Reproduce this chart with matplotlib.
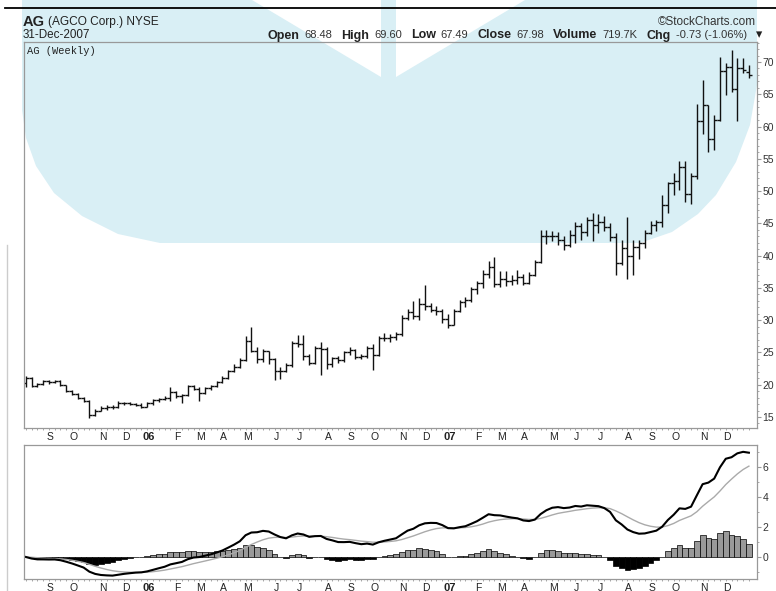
import matplotlib
matplotlib.use("Agg")
import matplotlib.pyplot as plt
from matplotlib.patches import Polygon
from matplotlib.lines import Line2D
import numpy as np
import pandas as pd

plt.rcParams['font.family'] = ['Liberation Sans', 'DejaVu Sans']

W, H = 776, 591

# weekly bars, AG, starting week of 8-Aug-2005
FIRST_WEEK = "2005-08-08"

OPEN = [20.3, 21.1, 19.8, 20.1, 20.6, 20.5, 20.6, 19.9, 19.1, 18.6,
        18.0, 17.5, 15.3, 16.0, 16.4, 16.6, 16.5, 17.2, 17.2, 17.0,
        16.9, 16.6, 17.1, 17.6, 17.8, 17.9, 18.8, 18.2, 18.4, 19.8,
        19.4, 18.7, 19.5, 19.8, 20.4, 21.0, 22.1, 22.8, 23.8, 26.8,
        25.3, 24.0, 25.2, 24.0, 22.2, 22.2, 23.0, 26.5, 26.3, 24.5,
        23.4, 25.7, 25.6, 23.2, 24.1, 23.8, 25.0, 25.4, 24.3, 24.4,
        25.7, 24.6, 27.3, 27.2, 27.4, 27.8, 30.4, 31.2, 30.6, 32.5,
        32.2, 31.6, 31.5, 30.2, 29.3, 31.4, 32.8, 33.1, 34.8, 35.7,
        37.2, 38.3, 35.6, 36.4, 36.0, 36.3, 36.7, 35.8, 37.0, 39.0,
        43.0, 43.0, 43.0, 42.4, 41.6, 43.2, 44.6, 43.6, 45.5, 44.8,
        45.2, 44.4, 42.9, 38.8, 41.2, 40.0, 41.4, 42.0, 43.5, 44.7,
        45.2, 47.8, 51.2, 51.5, 53.8, 49.6, 52.3, 60.8, 63.3, 58.0,
        61.0, 68.6, 69.2, 65.8, 69.0, 68.48]
HIGH = [21.4, 21.2, 20.3, 20.8, 20.8, 20.8, 20.7, 20.0, 19.2, 18.7,
        18.1, 17.6, 16.2, 16.7, 16.8, 16.9, 17.5, 17.4, 17.4, 17.2,
        17.1, 17.3, 17.8, 18.0, 18.3, 19.6, 19.0, 18.6, 20.0, 20.0,
        19.6, 19.6, 20.0, 20.6, 21.3, 22.3, 23.2, 24.2, 27.5, 28.9,
        25.8, 25.6, 25.3, 24.1, 22.8, 23.4, 26.8, 27.7, 27.7, 24.8,
        26.0, 26.6, 25.8, 24.3, 24.5, 25.3, 25.8, 25.6, 24.8, 26.0,
        26.3, 27.5, 28.0, 27.8, 28.2, 30.8, 31.7, 33.0, 33.4, 35.4,
        32.6, 32.2, 31.8, 31.0, 31.8, 33.2, 33.6, 35.2, 36.0, 37.8,
        39.2, 39.8, 37.6, 37.6, 37.0, 37.8, 37.2, 37.4, 39.4, 44.0,
        44.0, 43.8, 43.6, 43.0, 44.0, 45.2, 45.0, 46.0, 46.6, 46.4,
        46.2, 45.0, 43.5, 42.5, 46.0, 42.5, 42.4, 44.0, 45.4, 45.6,
        49.4, 51.4, 52.8, 54.6, 54.6, 52.8, 63.5, 67.2, 63.4, 61.8,
        70.8, 69.9, 71.9, 70.6, 70.6, 69.60]
LOW = [19.7, 19.6, 19.6, 19.9, 20.1, 20.2, 19.8, 18.9, 18.4, 17.8,
       17.3, 14.9, 15.1, 15.9, 16.1, 16.3, 16.4, 16.9, 16.8, 16.7,
       16.4, 16.5, 16.9, 17.3, 17.6, 17.5, 18.0, 17.2, 18.3, 19.2,
       17.5, 18.5, 19.2, 19.6, 20.2, 20.9, 21.9, 22.6, 23.7, 25.0,
       23.4, 23.5, 23.2, 20.8, 20.9, 22.0, 22.8, 25.8, 23.8, 23.1,
       23.2, 21.5, 22.5, 22.7, 23.3, 23.5, 24.6, 24.0, 24.0, 24.2,
       22.3, 24.5, 26.8, 26.6, 26.9, 27.6, 30.0, 30.2, 30.1, 31.6,
       31.2, 30.8, 29.6, 28.8, 29.2, 31.2, 32.0, 32.8, 34.0, 35.0,
       36.5, 35.2, 35.1, 35.3, 35.4, 35.6, 35.4, 35.6, 36.9, 38.8,
       41.8, 42.2, 41.7, 40.9, 41.4, 42.0, 42.5, 43.0, 42.2, 43.5,
       43.8, 42.2, 37.0, 38.5, 36.4, 37.0, 39.5, 41.2, 43.3, 43.8,
       44.5, 46.6, 49.4, 50.2, 48.3, 48.0, 51.8, 58.8, 56.0, 56.3,
       60.8, 64.9, 65.3, 60.9, 68.3, 67.49]
CLOSE = [21.1, 19.8, 20.1, 20.6, 20.5, 20.6, 19.9, 19.1, 18.6, 18.0,
         17.5, 15.3, 16.0, 16.4, 16.6, 16.5, 17.2, 17.2, 17.0, 16.9,
         16.6, 17.1, 17.6, 17.8, 17.9, 18.8, 18.2, 18.4, 19.8, 19.4,
         18.7, 19.5, 19.8, 20.4, 21.0, 22.1, 22.8, 23.8, 26.8, 25.3,
         24.0, 25.2, 24.0, 22.2, 22.2, 23.0, 26.5, 26.3, 24.5, 23.4,
         25.7, 25.6, 23.2, 24.1, 23.8, 25.0, 25.4, 24.3, 24.4, 25.7,
         24.6, 27.3, 27.2, 27.4, 27.8, 30.4, 31.2, 30.6, 32.5, 32.2,
         31.6, 31.5, 30.2, 29.3, 31.4, 32.8, 33.1, 34.8, 35.7, 37.2,
         38.3, 35.6, 36.4, 36.0, 36.3, 36.7, 35.8, 37.0, 39.0, 43.0,
         43.0, 43.0, 42.4, 41.6, 43.2, 44.6, 43.6, 45.5, 44.8, 45.2,
         44.4, 42.9, 38.8, 41.2, 40.0, 41.4, 42.0, 43.5, 44.7, 45.2,
         47.8, 51.2, 51.5, 53.8, 49.6, 52.3, 60.8, 63.3, 58.0, 61.0,
         68.6, 69.2, 65.8, 69.0, 68.71, 67.98]

MONTH_LABELS = ["S", "O", "N", "D", "06", "F", "M", "A", "M", "J", "J", "A", "S", "O",
                "N", "D", "07", "F", "M", "A", "M", "J", "J", "A", "S", "O", "N", "D"]
PRICE_TICKS = [15, 20, 25, 30, 35, 40, 45, 50, 55, 60, 65, 70]
MACD_TICKS = [0, 2, 4, 6]

# (text, bold)
HEADER = [("Open", True), ("68.48", False), ("High", True), ("69.60", False),
          ("Low", True), ("67.49", False), ("Close", True), ("67.98", False),
          ("Volume", True), ("719.7K", False), ("Chg", True), ("-0.73 (-1.06%)", False),
          ("\u25be", True)]

n = len(CLOSE)
x = np.arange(n)
weeks = pd.date_range(FIRST_WEEK, periods=n, freq="W-MON")
month_pos = [i + 0.25 for i in range(1, n) if weeks[i].month != weeks[i - 1].month]

close = pd.Series(CLOSE)
macd = close.ewm(span=12, adjust=False).mean() - close.ewm(span=26, adjust=False).mean()
signal = macd.ewm(span=9, adjust=False).mean()
hist = (macd - signal).to_numpy()


def fx(px):
    return px / W


def fy(py):
    return 1 - py / H


fig = plt.figure(figsize=(W / 100, H / 100), dpi=100, facecolor='white')

# StockCharts watermark behind everything
wm = [(22, 0), (252, 0), (381, 77), (381, 0), (396, 0), (396, 77), (525, 0), (757, 0),
      (757, 85), (750, 125), (736, 162), (716, 195), (698, 214), (672, 232), (640, 243),
      (160, 243), (118, 234), (82, 216), (54, 193), (36, 166), (26, 138), (22, 110)]
fig.add_artist(Polygon([(fx(a), fy(b)) for a, b in wm], closed=True, transform=fig.transFigure,
                       facecolor='#d9eff5', edgecolor='none', zorder=-10))
fig.add_artist(Line2D([fx(5), 1], [fy(8), fy(8)], color='black', lw=1.3))
fig.add_artist(Line2D([fx(7), fx(7)], [0, fy(245)], color='#cccccc', lw=1))

ax = fig.add_axes([fx(24), fy(428), fx(757) - fx(24), fy(42) - fy(428)])
ax2 = fig.add_axes([fx(24), fy(579), fx(757) - fx(24), fy(445) - fy(579)])

for a in (ax, ax2):
    a.set_facecolor('none')
    for s in a.spines.values():
        s.set_color('#999999')
        s.set_linewidth(0.9)
    a.set_xlim(-0.3, n + 0.4)
    a.yaxis.tick_right()
    a.set_xticks(month_pos)
    a.set_xticklabels(MONTH_LABELS)
    a.set_xticks(x, minor=True)
    a.tick_params(axis='x', which='major', length=0, pad=3, labelsize=7.5, labelcolor='#222222')
    a.tick_params(axis='x', which='minor', length=1.5, color='#999999', direction='out')
    a.tick_params(axis='y', which='major', length=3, color='#999999', labelsize=7.5,
                  labelcolor='#333333', pad=1)
    a.tick_params(axis='y', which='minor', length=1.5, color='#999999')
    for t in a.get_xticklabels():
        if t.get_text().isdigit():
            t.set_fontweight('bold')
            t.set_fontsize(8)

# price bars
ax.vlines(x, LOW, HIGH, color='#111111', lw=1.0)
ax.hlines(OPEN, x - 0.5, x, color='#111111', lw=1.0)
ax.hlines(CLOSE, x, x + 0.5, color='#111111', lw=1.0)
ax.set_ylim(13.3, 73.1)
ax.set_yticks(PRICE_TICKS)
ax.set_yticks(np.arange(14, 74), minor=True)

# MACD panel
ax2.bar(x, hist, width=1.0, color=np.where(hist >= 0, '#999999', '#000000'),
        edgecolor='#000000', linewidth=0.5)
ax2.plot(x, signal, color='#aaaaaa', lw=1.0)
ax2.plot(x, macd, color='#000000', lw=1.5)
ax2.set_ylim(-1.47, 7.47)
ax2.set_yticks(MACD_TICKS)
ax2.set_yticks(np.arange(-1, 8, 1), minor=True)

# header
fig.text(fx(23), fy(25.5), "AG", fontsize=10.5, fontweight='bold', color='#222222')
fig.text(fx(48), fy(25.5), "(AGCO Corp.) NYSE", fontsize=8.6, color='#222222')
fig.text(fx(23), fy(38.5), "31-Dec-2007", fontsize=8.4, color='#222222')
fig.text(fx(756), fy(25), "\u00a9StockCharts.com", fontsize=8.5, color='#333333', ha='right')

# lay the quote line out piece by piece, then shift it so it ends at the right edge
renderer = fig.canvas.get_renderer()
pieces = []
cur = 0.0
for txt, bold in HEADER:
    if bold:
        t = fig.text(0, fy(38.5), txt, fontsize=9, fontweight='bold', color='#222222')
    else:
        t = fig.text(0, fy(38.5), txt, fontsize=8, color='#333333')
    w = t.get_window_extent(renderer).width
    pieces.append((t, cur))
    cur += w + (5 if bold else 9)
shift = 762 - (cur - 5)
for t, off in pieces:
    t.set_x(fx(shift + off))

fig.text(fx(27), fy(54.5), "AG (Weekly)", fontsize=7.5, family='Liberation Mono', color='#222222')

fig.savefig("out.png", dpi=100, facecolor='white')
